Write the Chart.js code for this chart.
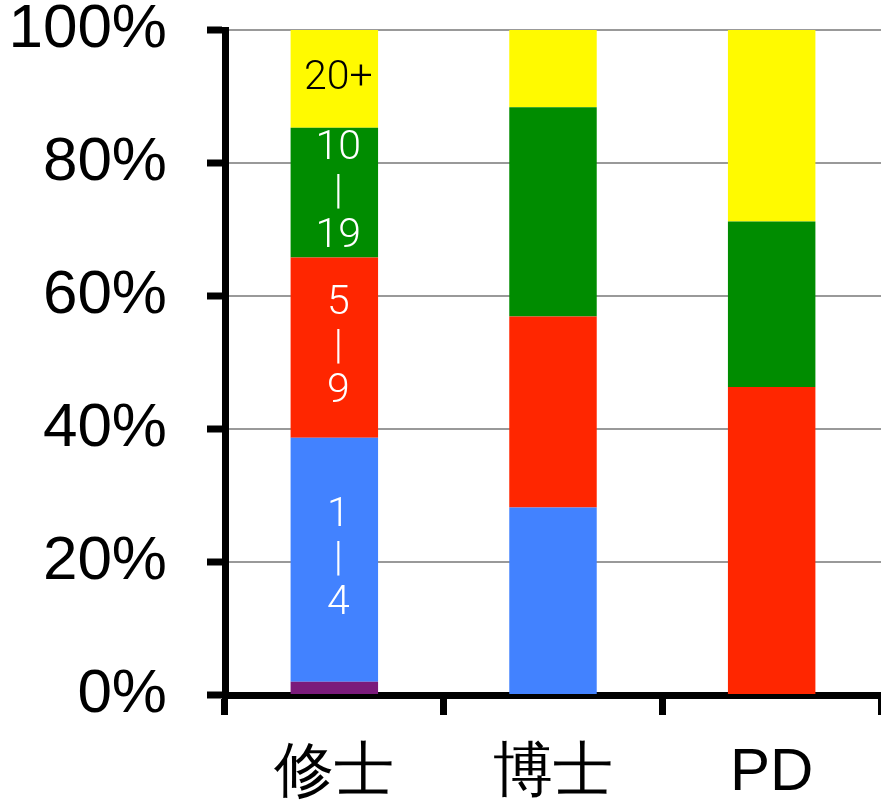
<!DOCTYPE html>
<html>
<head>
<meta charset="utf-8">
<script src="https://cdn.jsdelivr.net/npm/chart.js@4/dist/chart.umd.min.js"></script>
<style>
  html, body { margin: 0; padding: 0; background: #fff; }
  #wrap { width: 881px; height: 809px; }
</style>
</head>
<body>
<div id="wrap"><canvas id="myChart" width="881" height="809"></canvas></div>
<script>
// カテゴリ
var categories = ["修士", "博士", "PD"];
// 各区分の割合 (%)
var under1 = [2, 0, 0];        // 紫
var band1to4 = [36.7, 28.2, 0];
var band5to9 = [27.1, 28.7, 46.3];
var band10to19 = [19.5, 31.5, 24.9];
var band20plus = [14.7, 11.6, 28.8];
// 修士の棒の中のラベル
var segLabels = ["", "1\n|\n4", "5\n|\n9", "10\n|\n19", "20+"];
var segLabelColors = ["#fff", "#fff", "#fff", "#fff", "#000"];
var yTicks = [0, 20, 40, 60, 80, 100];

var font = "'Liberation Sans', Arial, Helvetica, sans-serif";
var lightFont = "Roboto, 'Liberation Sans', sans-serif";

// 棒の中に文字を描く
var segTextPlugin = {
  id: "segText",
  afterDatasetsDraw: function(chart) {
    var ctx = chart.ctx;
    ctx.save();
    ctx.font = "300 41px " + lightFont;
    ctx.textAlign = "center";
    ctx.textBaseline = "middle";
    chart.data.datasets.forEach(function(ds, i) {
      if (!segLabels[i]) return;
      var bar = chart.getDatasetMeta(i).data[0];
      var lines = segLabels[i].split("\n");
      var mid = (bar.y + bar.base) / 2;
      var step = 44;
      ctx.fillStyle = segLabelColors[i];
      lines.forEach(function(t, k) {
        ctx.fillText(t, bar.x + 4, mid + (k - (lines.length - 1) / 2) * step);
      });
    });
    ctx.restore();
  }
};

var ctx = document.getElementById("myChart").getContext("2d");
var myChart = new Chart(ctx, {
  type: "bar",
  data: {
    labels: categories,
    datasets: [
      { label: "0", data: under1, backgroundColor: "#7B1B7B" },
      { label: "1-4", data: band1to4, backgroundColor: "#4282FF" },
      { label: "5-9", data: band5to9, backgroundColor: "#FF2600" },
      { label: "10-19", data: band10to19, backgroundColor: "#008C00" },
      { label: "20+", data: band20plus, backgroundColor: "#FFFA00" }
    ]
  },
  options: {
    responsive: false,
    animation: false,
    layout: { padding: { top: 30, right: 0, left: 0, bottom: 0 } },
    datasets: { bar: { categoryPercentage: 1.0, barPercentage: 0.4, borderWidth: 0 } },
    plugins: { legend: { display: false }, tooltip: { enabled: false } },
    scales: {
      x: {
        stacked: true,
        grid: { drawOnChartArea: false, color: "#000", tickColor: "#000", tickWidth: 7, tickLength: 20 },
        border: { color: "#000", width: 7 },
        ticks: { color: "#000", font: { family: font, size: 60 }, padding: 22 },
        afterFit: function(s) { s.height = 809 - 695; s.paddingLeft = 0; s.paddingRight = 0; }
      },
      y: {
        stacked: true,
        min: 0,
        max: 100,
        afterBuildTicks: function(s) { s.ticks = yTicks.map(function(v) { return { value: v }; }); },
        grid: { color: "#999", lineWidth: 2, tickColor: "#000", tickWidth: 7, tickLength: 18 },
        border: { color: "#000", width: 7 },
        ticks: { color: "#000", font: { family: font, size: 62 }, padding: 40,
          callback: function(v) { return v + "%"; } },
        afterFit: function(s) { s.width = 225; s.paddingTop = 0; s.paddingBottom = 0; }
      }
    }
  },
  plugins: [segTextPlugin]
});
</script>
</body>
</html>
